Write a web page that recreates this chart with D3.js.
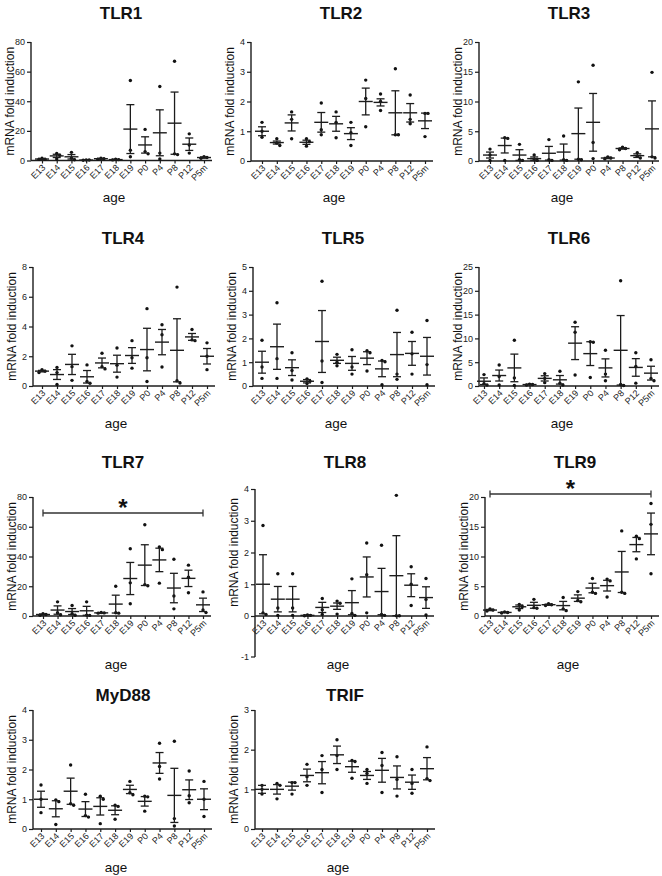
<!DOCTYPE html>
<html><head><meta charset="utf-8">
<script src="https://cdn.jsdelivr.net/npm/d3@7"></script>
<style>
html,body{margin:0;padding:0;background:#fff;}
svg{display:block;font-family:"Liberation Sans",Arial,Helvetica,sans-serif;}
</style></head>
<body><svg id="chart" width="662" height="876"></svg>
<script>
const categories = ["E13","E14","E15","E16","E17","E18","E19","P0","P4","P8","P12","P5m"];
const panelNames = ["TLR1","TLR2","TLR3","TLR4","TLR5","TLR6","TLR7","TLR8","TLR9","MyD88","TRIF"];
const yLabel = "mRNA fold induction";
const xLabel = "age";

const tlr1Ticks = [0,20,40,60,80];
const tlr1Mean = [1.0,3.1,2.5,0.3,1.2,0.6,21.2,10.5,18.7,25.2,11.0,2.0];
const tlr1Sem  = [0.3,1.1,1.5,0.1,0.2,0.2,16.5,5.5,15.5,21,4.2,0.4];
const tlr1Pts  = [[1.5,0.8,0.8],[4.8,3.5,1.0],[5.5,1.5,0.5],[0.4,0.3,0.2],[1.5,1.2,0.9],[0.8,0.6,0.4],[54,7,2.5],[21,6,4.5],[50,5,1],[67,4.5,4],[18,10.5,5],[2.5,2,1.5]];

const tlr2Ticks = [0,1,2,3,4];
const tlr2Mean = [1.0,0.62,1.28,0.63,1.3,1.25,0.92,2.0,1.97,1.62,1.62,1.35];
const tlr2Sem  = [0.15,0.05,0.27,0.07,0.33,0.25,0.2,0.45,0.12,0.74,0.31,0.26];
const tlr2Pts  = [[1.3,1.0,0.8],[0.75,0.6,0.52],[1.65,1.4,0.75],[0.75,0.65,0.5],[1.95,1.05,0.88],[1.65,1.3,0.78],[1.3,0.95,0.52],[2.72,2.1,1.15],[2.25,2.0,1.7],[3.1,0.88,0.88],[2.22,1.4,1.25],[1.6,1.6,0.82]];

const tlr3Ticks = [0,5,10,15,20];
const tlr3Mean = [1.0,2.6,1.0,0.4,1.3,1.5,4.6,6.5,0.5,2.1,0.9,5.4];
const tlr3Sem  = [0.5,1.25,0.9,0.28,1.15,1.35,4.3,4.85,0.1,0.1,0.3,4.7];
const tlr3Pts  = [[2.0,1.0,0.1],[3.9,3.8,0.1],[2.8,0.2,0.1],[1.0,0.2,0.1],[3.6,0.2,0.1],[4.2,0.2,0.1],[13.3,0.3,0.2],[16.1,3.1,0.4],[0.7,0.5,0.35],[2.3,2.1,1.9],[1.4,0.8,0.5],[14.9,0.7,0.5]];

const tlr4Ticks = [0,2,4,6,8];
const tlr4Mean = [1.0,0.77,1.45,0.62,1.55,1.5,2.05,2.45,2.95,2.4,3.3,2.0];
const tlr4Sem  = [0.05,0.33,0.68,0.42,0.33,0.57,0.53,1.43,0.85,2.12,0.23,0.52];
const tlr4Pts  = [[1.1,1.0,0.9],[1.25,0.9,0.1],[2.7,1.3,0.38],[1.42,0.3,0.18],[2.2,1.3,1.15],[2.55,1.4,0.6],[3.05,1.9,1.2],[5.2,1.9,0.3],[4.12,3.45,1.28],[6.65,0.35,0.2],[3.8,3.1,3.05],[2.9,2.0,1.1]];

const tlr5Ticks = [0,1,2,3,4,5];
const tlr5Mean = [1.0,1.65,0.77,0.2,1.87,1.08,0.95,1.17,0.72,1.32,1.37,1.25];
const tlr5Sem  = [0.46,0.95,0.33,0.07,1.3,0.13,0.29,0.27,0.33,0.93,0.5,0.79];
const tlr5Pts  = [[1.92,0.8,0.32],[3.5,1.15,0.32],[1.4,0.65,0.25],[0.3,0.2,0.1],[4.4,1.05,0.15],[1.33,1.0,0.85],[1.52,0.8,0.5],[1.48,1.4,0.63],[1.07,1.02,0.05],[3.18,0.5,0.28],[2.26,1.35,0.5],[2.75,0.9,0.05]];

const tlr6Ticks = [0,5,10,15,20,25];
const tlr6Mean = [1.0,2.2,3.8,0.3,1.6,1.3,9.0,6.8,3.8,7.5,3.9,2.7];
const tlr6Sem  = [0.7,1.15,2.9,0.05,0.55,0.9,3.45,2.5,1.9,7.3,1.85,1.45];
const tlr6Pts  = [[2.4,0.5,0.2],[4.4,2.0,0.2],[9.6,1.7,0.1],[0.4,0.3,0.2],[2.6,1.6,0.7],[3.1,0.6,0.2],[13.4,11.3,2.3],[9.3,9.2,1.8],[7.5,2.5,1.1],[22.1,0.3,0.1],[7.0,4.1,0.6],[5.5,1.6,1.1]];

const tlr7Ticks = [0,20,40,60,80];
const tlr7Mean = [1.0,4.0,3.0,3.5,2.1,8.0,25.2,34.2,37.7,18.8,25.3,7.5];
const tlr7Sem  = [0.3,2.8,2.0,3.0,0.2,6.0,10.8,13.7,7.9,9.9,5.5,4.5];
const tlr7Pts  = [[1.5,1.0,0.5],[9.5,2.2,0.8],[7.1,1.5,0.5],[9.5,0.6,0.4],[2.4,2.1,1.9],[20,2.2,1.9],[45.2,22.3,8.2],[61.3,21.1,20.3],[46.4,44.6,22.1],[38.2,13.4,4.8],[34.2,26.1,15.6],[16.2,4.0,2.3]];

const tlr8Ticks = [-1,0,1,2,3,4];
const tlr8Mean = [1.0,0.53,0.53,0.02,0.27,0.31,0.42,1.23,0.77,1.27,0.97,0.58];
const tlr8Sem  = [0.93,0.4,0.4,0.01,0.16,0.1,0.38,0.63,0.73,1.26,0.36,0.34];
const tlr8Pts  = [[2.85,0.1,0.05],[1.33,0.25,0.02],[1.33,0.25,0.02],[0.03,0.02,0.01],[0.55,0.2,0.05],[0.47,0.4,0.06],[1.17,0.08,0.02],[2.3,1.3,0.1],[2.23,0.05,0.02],[3.8,0.01,0.01],[1.55,1.0,0.33],[1.18,0.52,0.03]];

const tlr9Ticks = [0,5,10,15,20];
const tlr9Mean = [1.0,0.6,1.55,1.8,1.9,1.75,3.0,4.7,5.1,7.4,12.0,13.8];
const tlr9Sem  = [0.1,0.05,0.3,0.5,0.1,0.7,0.55,0.8,0.9,3.45,1.2,3.5];
const tlr9Pts  = [[1.2,1.0,0.85],[0.7,0.6,0.5],[1.95,1.6,1.0],[2.8,1.4,1.3],[2.05,1.9,1.75],[3.1,1.2,0.9],[4.1,2.6,2.4],[6.3,4.0,3.8],[6.2,5.9,3.2],[14.3,4.0,3.8],[13.4,13.0,9.6],[18.9,15.4,7.1]];

const myd88Ticks = [0,1,2,3,4];
const myd88Mean = [1.0,0.68,1.27,0.67,0.76,0.63,1.33,0.93,2.22,1.13,1.32,1.0];
const myd88Sem  = [0.27,0.27,0.44,0.25,0.29,0.15,0.14,0.16,0.35,0.91,0.33,0.35];
const myd88Pts  = [[1.48,1.0,0.55],[0.98,0.92,0.15],[2.15,0.85,0.8],[1.17,0.45,0.4],[1.1,1.0,0.18],[0.8,0.76,0.33],[1.6,1.22,1.15],[1.1,1.08,0.6],[2.88,2.1,1.68],[2.95,0.35,0.1],[1.95,1.12,0.88],[1.6,1.0,0.42]];

const trifTicks = [0,1,2,3];
const trifMean = [1.0,1.0,1.08,1.35,1.42,1.87,1.57,1.35,1.48,1.3,1.18,1.52];
const trifSem  = [0.1,0.12,0.1,0.16,0.28,0.22,0.14,0.1,0.3,0.29,0.18,0.28];
const trifPts  = [[1.1,1.0,0.88],[1.15,1.1,0.76],[1.17,1.17,0.88],[1.63,1.32,1.1],[1.85,1.5,0.92],[2.25,1.85,1.5],[1.73,1.7,1.28],[1.5,1.4,1.15],[1.93,1.6,0.92],[1.82,1.25,0.83],[1.5,1.15,0.9],[2.07,1.27,1.22]];

// significance brackets
const sigPanels = ["TLR7","TLR9"];
const sigFrom = ["E13","E13"];
const sigTo = ["P5m","P5m"];
const sigLabel = ["*","*"];

const panelData = [
  [tlr1Mean,tlr1Sem,tlr1Pts,tlr1Ticks],[tlr2Mean,tlr2Sem,tlr2Pts,tlr2Ticks],[tlr3Mean,tlr3Sem,tlr3Pts,tlr3Ticks],
  [tlr4Mean,tlr4Sem,tlr4Pts,tlr4Ticks],[tlr5Mean,tlr5Sem,tlr5Pts,tlr5Ticks],[tlr6Mean,tlr6Sem,tlr6Pts,tlr6Ticks],
  [tlr7Mean,tlr7Sem,tlr7Pts,tlr7Ticks],[tlr8Mean,tlr8Sem,tlr8Pts,tlr8Ticks],[tlr9Mean,tlr9Sem,tlr9Pts,tlr9Ticks],
  [myd88Mean,myd88Sem,myd88Pts,myd88Ticks],[trifMean,trifSem,trifPts,trifTicks]
];

// layout (pixel positions only)
const layout = [
  {ax:31, c0:42, c1:204, top:42, bot:160.5, title:19, age:197},
  {ax:251, c0:262, c1:425, top:42, bot:161, title:19, age:197},
  {ax:479, c0:490, c1:652, top:42, bot:161, title:19, age:197},
  {ax:33, c0:42, c1:207, top:267, bot:386, title:244, age:423},
  {ax:253, c0:262, c1:427, top:267, bot:386, title:244, age:423},
  {ax:479, c0:484, c1:651, top:267, bot:386, title:244, age:423},
  {ax:33, c0:43, c1:203, top:497, bot:616, title:468, age:664, sigY:513},
  {ax:255, c0:263, c1:426, top:489, bot:616, title:468, age:664, negY:657},
  {ax:485, c0:490, c1:651, top:497, bot:616, title:468, age:664, sigY:494},
  {ax:33, c0:41, c1:204, top:710, bot:829, title:701, age:867},
  {ax:255, c0:262, c1:427, top:710, bot:829, title:701, age:867}
];

const ink = "#1c1c1c";
const svg = d3.select("#chart");
svg.append("rect").attr("width",662).attr("height",876).attr("fill","#fff");

panelNames.forEach((name, i) => {
  const [means, sems, pts, ticks] = panelData[i];
  const L = layout[i];
  const g = svg.append("g");
  const x = d3.scalePoint().domain(categories).range([L.c0, L.c1]);
  const posTicks = ticks.filter(t => t >= 0);
  const y = d3.scaleLinear().domain([0, d3.max(posTicks)]).range([L.bot, L.top]);

  // title
  g.append("text").attr("x", L.ax + 90).attr("y", L.title).attr("text-anchor","middle")
    .attr("font-size", 17).attr("font-weight","bold").attr("fill","#111").text(name);

  // y axis
  const yAx = g.append("g").attr("transform", `translate(${L.ax},0)`)
    .call(d3.axisLeft(y).tickValues(posTicks).tickSize(4).tickPadding(2).tickFormat(d3.format("d")));
  yAx.select(".domain").remove();
  yAx.selectAll(".tick line").attr("stroke", ink).attr("stroke-width", 1.2);
  yAx.selectAll(".tick text").attr("font-size", 9).attr("fill", "#222").attr("font-family", null);
  g.append("line").attr("x1", L.ax).attr("x2", L.ax).attr("y1", y(d3.max(posTicks)))
    .attr("y2", L.negY ? L.negY : L.bot).attr("stroke", ink).attr("stroke-width", 1.4);
  if (L.negY) {
    ticks.filter(t => t < 0).forEach(t => {
      g.append("line").attr("x1", L.ax - 4).attr("x2", L.ax).attr("y1", L.negY).attr("y2", L.negY)
        .attr("stroke", ink).attr("stroke-width", 1.2);
      g.append("text").attr("x", L.ax - 6).attr("y", L.negY).attr("dy","0.32em").attr("text-anchor","end")
        .attr("font-size", 9).attr("fill","#222").text(String(t));
    });
  }

  // x axis
  g.append("line").attr("x1", L.ax).attr("x2", Math.min(L.c1 + 8, 659)).attr("y1", L.bot).attr("y2", L.bot)
    .attr("stroke", ink).attr("stroke-width", 1.4);
  const xAx = g.append("g").attr("transform", `translate(0,${L.bot})`)
    .call(d3.axisBottom(x).tickSize(3).tickSizeOuter(0));
  xAx.select(".domain").remove();
  xAx.selectAll(".tick line").attr("stroke", ink).attr("stroke-width", 1.2);
  xAx.selectAll(".tick text").attr("font-size", 9).attr("fill","#222").attr("font-family", null)
    .attr("text-anchor","end").attr("x", -3).attr("y", 8).attr("dy", 0)
    .attr("transform","rotate(-45)");

  // axis titles
  g.append("text").attr("transform", `translate(${L.ax - 21},${(L.top + L.bot)/2}) rotate(-90)`)
    .attr("text-anchor","middle").attr("dy","0.35em").attr("font-size", 12).attr("fill","#111").text(yLabel);
  g.append("text").attr("x", L.ax + 83).attr("y", L.age).attr("dy","0.35em").attr("text-anchor","middle")
    .attr("font-size", 13.5).attr("fill","#111").text(xLabel);

  categories.forEach((c, j) => {
    const cx = x(c);
    const placed = [];
    pts[j].forEach(v => {
      const py = y(v);
      let off = 0;
      for (const o of [0, 3, -3, 6, -6]) {
        if (!placed.some(p => Math.abs(p.x - o) < 3 && Math.abs(p.y - py) < 3)) { off = o; break; }
      }
      placed.push({x: off, y: py});
      g.append("circle").attr("cx", cx + off).attr("cy", py).attr("r", 1.7).attr("fill", "#111");
    });
    const m = means[j], s = sems[j];
    g.append("line").attr("x1", cx).attr("x2", cx).attr("y1", y(m + s)).attr("y2", y(Math.max(m - s, 0)))
      .attr("stroke", ink).attr("stroke-width", 1.3);
    [m + s, Math.max(m - s, 0)].forEach(v => {
      g.append("line").attr("x1", cx - 4).attr("x2", cx + 4).attr("y1", y(v)).attr("y2", y(v))
        .attr("stroke", ink).attr("stroke-width", 1.3);
    });
    g.append("line").attr("x1", cx - 7).attr("x2", cx + 7).attr("y1", y(m)).attr("y2", y(m))
      .attr("stroke", ink).attr("stroke-width", 1.4);
  });

  const si = sigPanels.indexOf(name);
  if (si >= 0) {
    const xa = x(sigFrom[si]), xb = x(sigTo[si]), sy = L.sigY;
    g.append("line").attr("x1", xa).attr("x2", xb).attr("y1", sy).attr("y2", sy).attr("stroke", "#333").attr("stroke-width", 1.3);
    [xa, xb].forEach(xx => g.append("line").attr("x1", xx).attr("x2", xx).attr("y1", sy - 3.5).attr("y2", sy + 3.5)
      .attr("stroke", "#333").attr("stroke-width", 1.3));
    g.append("text").attr("x", (xa + xb) / 2).attr("y", sy + 3).attr("text-anchor","middle")
      .attr("font-size", 24).attr("font-weight","bold").attr("fill","#111").text(sigLabel[si]);
  }
});
</script>
</body></html>
